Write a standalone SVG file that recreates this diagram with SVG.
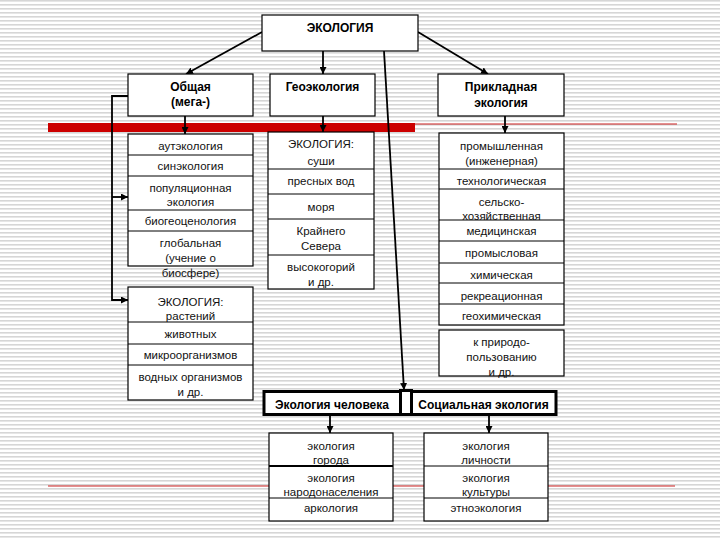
<svg xmlns="http://www.w3.org/2000/svg" width="720" height="540" viewBox="0 0 720 540">
<defs>
<pattern id="stripes" width="8" height="4" patternUnits="userSpaceOnUse">
<rect width="8" height="4" fill="#ffffff"/>
<rect y="0" width="8" height="1.6" fill="#d6d6d6"/>
</pattern>
<marker id="arr" viewBox="0 0 10 10" refX="10" refY="5" markerWidth="7" markerHeight="7" markerUnits="userSpaceOnUse" orient="auto">
<path d="M0,0 L10,5 L0,10 z" fill="#000"/>
</marker>
<style>
.box{fill:#fff;stroke:#000;stroke-width:1.2}
.div{stroke:#000;stroke-width:1}
.t{font-family:"Liberation Sans",Arial,sans-serif;font-size:11.5px;fill:#111;text-anchor:middle}
.b{font-family:"Liberation Sans",Arial,sans-serif;font-size:12px;font-weight:bold;fill:#000;text-anchor:middle}
.con{fill:none;stroke:#000;stroke-width:1.8}
</style>
</defs>
<rect width="720" height="540" fill="url(#stripes)"/>
<g id="decor">
<rect x="48" y="123" width="367" height="9" fill="#cc0000"/>
<line x1="415" y1="124" x2="677" y2="124" stroke="#cc2020" stroke-width="1.2"/>
<line x1="48" y1="486" x2="675" y2="486" stroke="#cc2020" stroke-width="1.2"/>
</g>
<g id="connectors">
<line class="con" x1="262" y1="32" x2="186" y2="74" marker-end="url(#arr)"/>
<line class="con" x1="323" y1="51" x2="323" y2="74" marker-end="url(#arr)"/>
<line class="con" x1="418" y1="32" x2="488" y2="74" marker-end="url(#arr)"/>
<line class="con" x1="384" y1="51" x2="404" y2="390" marker-end="url(#arr)"/>
<line class="con" x1="185" y1="116" x2="185" y2="134" marker-end="url(#arr)"/>
<line class="con" x1="323" y1="116" x2="323" y2="132" marker-end="url(#arr)"/>
<line class="con" x1="505" y1="116" x2="505" y2="133" marker-end="url(#arr)"/>
<path class="con" d="M128,96 H112 V300 H128" marker-end="url(#arr)"/>
<line class="con" x1="112" y1="197" x2="128" y2="197" marker-end="url(#arr)"/>
<line class="con" x1="330" y1="415" x2="330" y2="433" marker-end="url(#arr)"/>
<line class="con" x1="489" y1="415" x2="489" y2="433" marker-end="url(#arr)"/>
</g>
<g id="ecology">
<rect class="box" x="262" y="15" width="156" height="36" stroke-width="1.5"/>
<text class="b" x="340" y="32" font-size="13">ЭКОЛОГИЯ</text>
</g>
<g id="general">
<rect class="box" x="128" y="74" width="125" height="42" stroke-width="1.5"/>
<text class="b" x="190.5" y="91">Общая</text>
<text class="b" x="190.5" y="106">(мега-)</text>
</g>
<g id="geo">
<rect class="box" x="270" y="74" width="105" height="42" stroke-width="1.5"/>
<text class="b" x="322.5" y="91">Геоэкология</text>
</g>
<g id="applied">
<rect class="box" x="438" y="74" width="126" height="42" stroke-width="1.5"/>
<text class="b" x="501" y="91">Прикладная</text>
<text class="b" x="501" y="107">экология</text>
</g>
<g id="left1">
<rect class="box" x="128" y="134" width="125" height="132"/>
<line class="div" x1="128" y1="155" x2="253" y2="155"/>
<line class="div" x1="128" y1="176" x2="253" y2="176"/>
<line class="div" x1="128" y1="210" x2="253" y2="210"/>
<line class="div" x1="128" y1="231" x2="253" y2="231"/>
<text class="t" x="190.5" y="149.5">аутэкология</text>
<text class="t" x="190.5" y="170">синэкология</text>
<text class="t" x="190.5" y="192">популяционная</text>
<text class="t" x="190.5" y="206">экология</text>
<text class="t" x="190.5" y="225">биогеоценология</text>
<text class="t" x="190.5" y="247">глобальная</text>
<text class="t" x="190.5" y="262">(учение о</text>
<text class="t" x="190.5" y="277">биосфере)</text>
</g>
<g id="left2">
<rect class="box" x="128" y="287" width="125" height="113"/>
<line class="div" x1="128" y1="322" x2="253" y2="322"/>
<line class="div" x1="128" y1="344" x2="253" y2="344"/>
<line class="div" x1="128" y1="365" x2="253" y2="365"/>
<text class="t" x="190.5" y="306">ЭКОЛОГИЯ:</text>
<text class="t" x="190.5" y="320">растений</text>
<text class="t" x="190.5" y="338">животных</text>
<text class="t" x="190.5" y="359">микроорганизмов</text>
<text class="t" x="190.5" y="381">водных организмов</text>
<text class="t" x="190.5" y="396">и др.</text>
</g>
<g id="middle">
<rect class="box" x="268" y="132" width="106" height="157"/>
<line class="div" x1="268" y1="169" x2="374" y2="169"/>
<line class="div" x1="268" y1="194" x2="374" y2="194"/>
<line class="div" x1="268" y1="219" x2="374" y2="219"/>
<line class="div" x1="268" y1="255" x2="374" y2="255"/>
<text class="t" x="321" y="148">ЭКОЛОГИЯ:</text>
<text class="t" x="321" y="165">суши</text>
<text class="t" x="321" y="185">пресных вод</text>
<text class="t" x="321" y="211">моря</text>
<text class="t" x="321" y="235">Крайнего</text>
<text class="t" x="321" y="250">Севера</text>
<text class="t" x="321" y="271">высокогорий</text>
<text class="t" x="321" y="286">и др.</text>
</g>
<g id="right1">
<rect class="box" x="439" y="133" width="125" height="192"/>
<line class="div" x1="439" y1="169" x2="564" y2="169"/>
<line class="div" x1="439" y1="189" x2="564" y2="189"/>
<line class="div" x1="439" y1="220" x2="564" y2="220"/>
<line class="div" x1="439" y1="241" x2="564" y2="241"/>
<line class="div" x1="439" y1="263" x2="564" y2="263"/>
<line class="div" x1="439" y1="283" x2="564" y2="283"/>
<line class="div" x1="439" y1="304" x2="564" y2="304"/>
<text class="t" x="501.5" y="150">промышленная</text>
<text class="t" x="501.5" y="165">(инженерная)</text>
<text class="t" x="501.5" y="185">технологическая</text>
<text class="t" x="501.5" y="206">сельско-</text>
<text class="t" x="501.5" y="220">хозяйственная</text>
<text class="t" x="501.5" y="235">медицинская</text>
<text class="t" x="501.5" y="257">промысловая</text>
<text class="t" x="501.5" y="279">химическая</text>
<text class="t" x="501.5" y="300">рекреационная</text>
<text class="t" x="501.5" y="320">геохимическая</text>
</g>
<g id="right2">
<rect class="box" x="439" y="330" width="125" height="46"/>
<text class="t" x="501.5" y="346">к природо-</text>
<text class="t" x="501.5" y="361">пользованию</text>
<text class="t" x="501.5" y="376">и др.</text>
</g>
<g id="human-social">
<rect x="264" y="391.5" width="292" height="23" fill="#fff" stroke="#000" stroke-width="3"/>
<rect x="400.5" y="390.5" width="11" height="24" fill="#fff" stroke="#000" stroke-width="3"/>
<text class="b" x="332" y="408.5">Экология человека</text>
<text class="b" x="483.5" y="408.5">Социальная экология</text>
</g>
<g id="human-sub">
<rect class="box" x="269" y="433" width="124" height="88"/>
<line x1="269" y1="466" x2="393" y2="466" stroke="#000" stroke-width="2"/>
<line class="div" x1="269" y1="498" x2="393" y2="498"/>
<text class="t" x="331" y="450">экология</text>
<text class="t" x="331" y="464">города</text>
<text class="t" x="331" y="482">экология</text>
<text class="t" x="331" y="496">народонаселения</text>
<text class="t" x="331" y="512">аркология</text>
</g>
<g id="social-sub">
<rect class="box" x="424" y="433" width="124" height="88"/>
<line class="div" x1="424" y1="466" x2="548" y2="466"/>
<line class="div" x1="424" y1="498" x2="548" y2="498"/>
<text class="t" x="486" y="450">экология</text>
<text class="t" x="486" y="464">личности</text>
<text class="t" x="486" y="482">экология</text>
<text class="t" x="486" y="496">культуры</text>
<text class="t" x="486" y="512">этноэкология</text>
</g>
</svg>
